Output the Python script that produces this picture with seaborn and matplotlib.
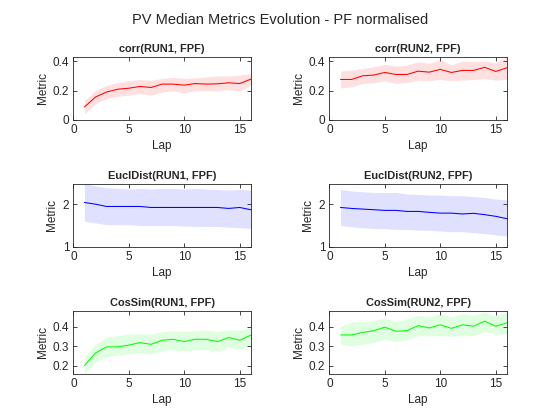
import matplotlib
matplotlib.use("Agg")
import matplotlib.pyplot as plt
import matplotlib.ticker as mticker
import numpy as np
import pandas as pd
import seaborn as sns

laps = list(range(1, 17))

# corr
corr_run1 = [0.087, 0.156, 0.190, 0.209, 0.216, 0.228, 0.221, 0.244,
             0.244, 0.237, 0.248, 0.244, 0.246, 0.253, 0.248, 0.278]
corr_run1_hi = [0.133, 0.200, 0.237, 0.255, 0.267, 0.276, 0.270, 0.283,
                0.290, 0.283, 0.287, 0.294, 0.300, 0.300, 0.306, 0.317]
corr_run1_lo = [0.041, 0.110, 0.145, 0.161, 0.168, 0.180, 0.168, 0.190,
                0.198, 0.184, 0.200, 0.198, 0.198, 0.207, 0.198, 0.237]
corr_run2 = [0.276, 0.276, 0.301, 0.306, 0.324, 0.310, 0.310, 0.333,
             0.326, 0.345, 0.324, 0.338, 0.338, 0.359, 0.331, 0.356]
corr_run2_hi = [0.333, 0.340, 0.352, 0.363, 0.379, 0.368, 0.375, 0.398,
                0.386, 0.414, 0.375, 0.402, 0.398, 0.402, 0.390, 0.432]
corr_run2_lo = [0.218, 0.225, 0.248, 0.253, 0.267, 0.248, 0.255, 0.271,
                0.267, 0.276, 0.267, 0.271, 0.276, 0.283, 0.271, 0.276]

# EuclDist
eucl_run1 = [2.04, 2.00, 1.946, 1.946, 1.946, 1.946, 1.923, 1.923,
             1.923, 1.923, 1.923, 1.923, 1.923, 1.90, 1.923, 1.87]
eucl_run1_hi = [2.48, 2.43, 2.385, 2.37, 2.354, 2.37, 2.354, 2.37,
                2.37, 2.354, 2.37, 2.354, 2.346, 2.33, 2.346, 2.33]
eucl_run1_lo = [1.60, 1.56, 1.52, 1.52, 1.52, 1.50, 1.50, 1.50,
                1.50, 1.485, 1.48, 1.477, 1.477, 1.46, 1.446, 1.43]
eucl_run2 = [1.923, 1.90, 1.885, 1.87, 1.854, 1.854, 1.83, 1.83,
             1.808, 1.79, 1.79, 1.77, 1.785, 1.754, 1.715, 1.66]
eucl_run2_hi = [2.346, 2.31, 2.29, 2.277, 2.27, 2.277, 2.24, 2.23,
                2.215, 2.215, 2.20, 2.20, 2.177, 2.16, 2.12, 2.10]
eucl_run2_lo = [1.50, 1.47, 1.446, 1.43, 1.423, 1.408, 1.408, 1.39,
                1.385, 1.37, 1.354, 1.354, 1.33, 1.31, 1.277, 1.254]

# CosSim
cos_run1 = [0.200, 0.265, 0.296, 0.296, 0.305, 0.318, 0.309, 0.330,
            0.335, 0.323, 0.335, 0.335, 0.323, 0.344, 0.330, 0.356]
cos_run1_hi = [0.242, 0.309, 0.347, 0.353, 0.361, 0.365, 0.361, 0.375,
               0.379, 0.375, 0.379, 0.382, 0.375, 0.382, 0.382, 0.393]
cos_run1_lo = [0.160, 0.218, 0.247, 0.253, 0.260, 0.265, 0.260, 0.277,
               0.282, 0.274, 0.282, 0.282, 0.274, 0.295, 0.282, 0.309]
cos_run2 = [0.357, 0.357, 0.370, 0.379, 0.397, 0.376, 0.379, 0.405,
            0.393, 0.409, 0.391, 0.409, 0.402, 0.428, 0.402, 0.419]
cos_run2_hi = [0.402, 0.423, 0.426, 0.431, 0.443, 0.426, 0.440, 0.457,
               0.449, 0.466, 0.449, 0.466, 0.457, 0.475, 0.454, 0.478]
cos_run2_lo = [0.310, 0.300, 0.310, 0.318, 0.336, 0.322, 0.332, 0.353,
               0.353, 0.353, 0.350, 0.353, 0.353, 0.374, 0.362, 0.362]

metrics = ["corr", "EuclDist", "CosSim"]
runs = ["RUN1", "RUN2"]
series = {
    ("corr", "RUN1"): (corr_run1, corr_run1_lo, corr_run1_hi),
    ("corr", "RUN2"): (corr_run2, corr_run2_lo, corr_run2_hi),
    ("EuclDist", "RUN1"): (eucl_run1, eucl_run1_lo, eucl_run1_hi),
    ("EuclDist", "RUN2"): (eucl_run2, eucl_run2_lo, eucl_run2_hi),
    ("CosSim", "RUN1"): (cos_run1, cos_run1_lo, cos_run1_hi),
    ("CosSim", "RUN2"): (cos_run2, cos_run2_lo, cos_run2_hi),
}
colors = {"corr": (1, 0, 0), "EuclDist": (0, 0, 1), "CosSim": (0, 1, 0)}
ylims = {"corr": (0, 0.432), "EuclDist": (1, 2.48), "CosSim": (0.158, 0.481)}
yticks = {"corr": [0, 0.2, 0.4], "EuclDist": [1, 2], "CosSim": [0.2, 0.3, 0.4]}

rows = []
for (m, r), (med, lo, hi) in series.items():
    for lap, v, l, h in zip(laps, med, lo, hi):
        rows.append({"metric": m, "run": r, "lap": lap, "value": v, "lo": l, "hi": h})
df = pd.DataFrame(rows)

sns.set_theme(style="ticks")
plt.rcParams["font.family"] = ["Liberation Sans", "DejaVu Sans"]
dark = (0.15, 0.15, 0.15)
plt.rcParams.update({
    "axes.edgecolor": dark, "axes.linewidth": 0.6,
    "xtick.color": dark, "ytick.color": dark,
    "xtick.direction": "in", "ytick.direction": "in",
    "xtick.top": True, "ytick.right": True,
    "xtick.major.size": 3, "ytick.major.size": 3,
    "xtick.major.width": 0.6, "ytick.major.width": 0.6,
    "xtick.labelsize": 8.5, "ytick.labelsize": 8.5,
    "axes.labelsize": 8.5, "axes.labelcolor": dark,
})

fig, axes = plt.subplots(3, 2, figsize=(5.6, 4.2), dpi=100)
fig.subplots_adjust(left=0.131, right=0.905, top=0.865, bottom=0.110,
                    wspace=0.443, hspace=1.016)

for i, m in enumerate(metrics):
    for j, r in enumerate(runs):
        ax = axes[i, j]
        sub = df[(df.metric == m) & (df.run == r)]
        c = colors[m]
        ax.fill_between(sub["lap"], sub["lo"], sub["hi"], color=c, alpha=0.12,
                        linewidth=0)
        sns.lineplot(data=sub, x="lap", y="value", ax=ax, color=c, linewidth=0.75)
        ax.set_xlim(0, 16)
        ax.set_ylim(*ylims[m])
        ax.set_xticks([0, 5, 10, 15])
        ax.set_yticks(yticks[m])
        ax.yaxis.set_major_formatter(mticker.FormatStrFormatter("%g"))
        ax.set_xlabel("Lap", labelpad=3)
        ax.set_ylabel("Metric", labelpad=3)
        ax.set_title(f"{m}({r}, FPF)", fontsize=7.9, fontweight="bold", pad=3.5)
        ax.tick_params(pad=3)

fig.suptitle("PV Median Metrics Evolution - PF normalised", fontsize=10.5,
             color=dark, y=0.97)
fig.savefig("out.png", dpi=100)
